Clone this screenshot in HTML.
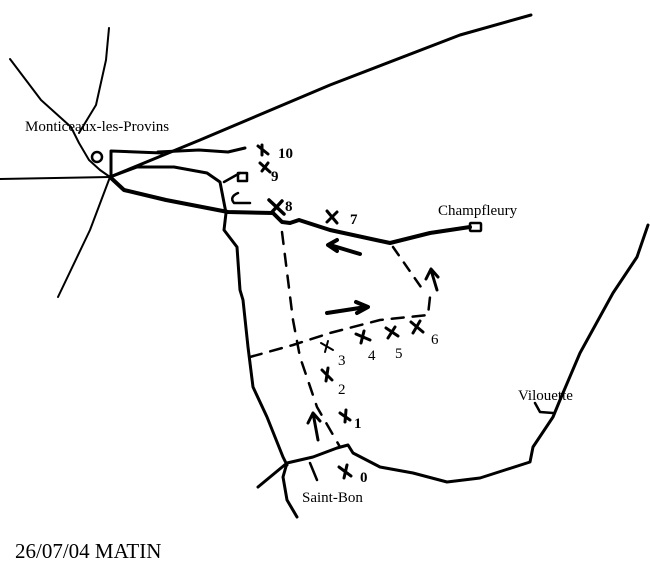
<!DOCTYPE html>
<html><head><meta charset="utf-8"><style>
html,body{margin:0;padding:0;background:#fff}
svg{display:block}
text{font-family:"Liberation Serif",serif;fill:#000}
</style></head><body>
<svg width="650" height="580" viewBox="0 0 650 580" xmlns="http://www.w3.org/2000/svg">
<g fill="none" stroke="#000" stroke-linecap="round" stroke-linejoin="round">
<path d="M110,177 L200,140 L330,85 L460,35 L531,15" stroke-width="3"/>
<path d="M10,59 L41,100 L71,127 L79,143 L89,160 L100,170 L110,177" stroke-width="2"/>
<path d="M109,28 L106,60 L96,105 L79,133" stroke-width="2"/>
<path d="M110,177 L90,230 L58,297" stroke-width="2"/>
<path d="M0,179 L110,177" stroke-width="2"/>
<circle cx="97" cy="157" r="5" stroke-width="2.5"/>
<path d="M111,177 L111,151 L162,153" stroke-width="3"/>
<path d="M158,152 L199,150 L228,152 L245,148" stroke-width="3"/>
<path d="M110,177 L137,167 L174,167 L207,173 L220,182 L226,213 L224,230 L237,247 L240,290 L243,300 L248,347 L253,387 L267,417 L283,457 L287,465" stroke-width="3"/>
<path d="M224,182 L240,173" stroke-width="2.5"/>
<rect x="238" y="173" width="9" height="8" stroke-width="2.5"/>
<path d="M238,193 Q229,197 234,203 L250,203" stroke-width="2.5"/>
<path d="M110,177 L124,190 L166,200 L228,212 L273,213 L282,222 L290,223 L299,220 L330,230 L390,243 L430,233 L470,227" stroke-width="4"/>
<rect x="470" y="223" width="11" height="8" rx="1" stroke-width="2.5"/>
<path d="M258,487 L287,463 L313,457 L337,448 L348,445 L353,453 L380,467 L413,473 L447,482 L480,478 L505,470 L530,462 L533,447 L553,417 L560,400 L580,353 L613,293 L637,257 L648,225" stroke-width="3"/>
<path d="M535,403 L540,412 L553,413" stroke-width="2.5"/>
<path d="M287,463 L283,477 L287,500 L297,517" stroke-width="3"/>
<path d="M310,463 L317,480" stroke-width="2.5"/>
<path d="M282,232 L293,320 L300,357 L317,407 L340,447" stroke-width="2.5" stroke-dasharray="12,10"/>
<path d="M250,357 L293,345 L330,333 L380,320 L428,315 L430,297" stroke-width="2.5" stroke-dasharray="12,9"/>
<path d="M393,247 L423,290" stroke-width="2.5" stroke-dasharray="10,9"/>
<path d="M327,313 L366,307 M356,302 L368,307 L357,313" stroke-width="4"/>
<path d="M360,254 L330,245 M337,240 L328,245 L337,251" stroke-width="4"/>
<path d="M437,290 L431,270 M426,279 L431,269 L438,277" stroke-width="3"/>
<path d="M318,440 L313,413 M308,423 L313,413 L320,421" stroke-width="3"/>
<g stroke-width="3">
<path d="M258,146 L268,154 M262,145 L262,155"/>
<path d="M260,163 L270,172 M268,163 L262,171"/>
<path d="M269,200 L284,214 M282,201 L272,212" stroke-width="3.5"/>
<path d="M327,211 L337,223 M337,212 L327,222"/>
<path d="M321,343 L333,350 M328,341 L325,352" stroke-width="2"/>
<path d="M356,334 L370,340 M364,331 L361,343"/>
<path d="M386,328 L398,336 M395,327 L388,338"/>
<path d="M411,322 L423,332 M420,321 L413,333"/>
<path d="M322,370 L332,380 M328,368 L326,381"/>
<path d="M340,413 L350,420 M346,410 L345,422"/>
<path d="M339,467 L351,476 M347,465 L344,478"/>
</g>
</g>
<text x="25" y="131" font-size="15">Monticeaux-les-Provins</text>
<text x="278" y="158" font-size="15" font-weight="bold">10</text>
<text x="271" y="181" font-size="15" font-weight="bold">9</text>
<text x="285" y="211" font-size="15" font-weight="bold">8</text>
<text x="350" y="224" font-size="15" font-weight="bold">7</text>
<text x="438" y="215" font-size="15">Champfleury</text>
<text x="338" y="365" font-size="15">3</text>
<text x="368" y="360" font-size="15">4</text>
<text x="395" y="358" font-size="15">5</text>
<text x="431" y="344" font-size="15">6</text>
<text x="338" y="394" font-size="15">2</text>
<text x="354" y="428" font-size="15" font-weight="bold">1</text>
<text x="360" y="482" font-size="15" font-weight="bold">0</text>
<text x="302" y="502" font-size="15">Saint-Bon</text>
<text x="518" y="400" font-size="15">Vilouette</text>
<text x="15" y="558" font-size="21">26/07/04 MATIN</text>
</svg>
</body></html>
